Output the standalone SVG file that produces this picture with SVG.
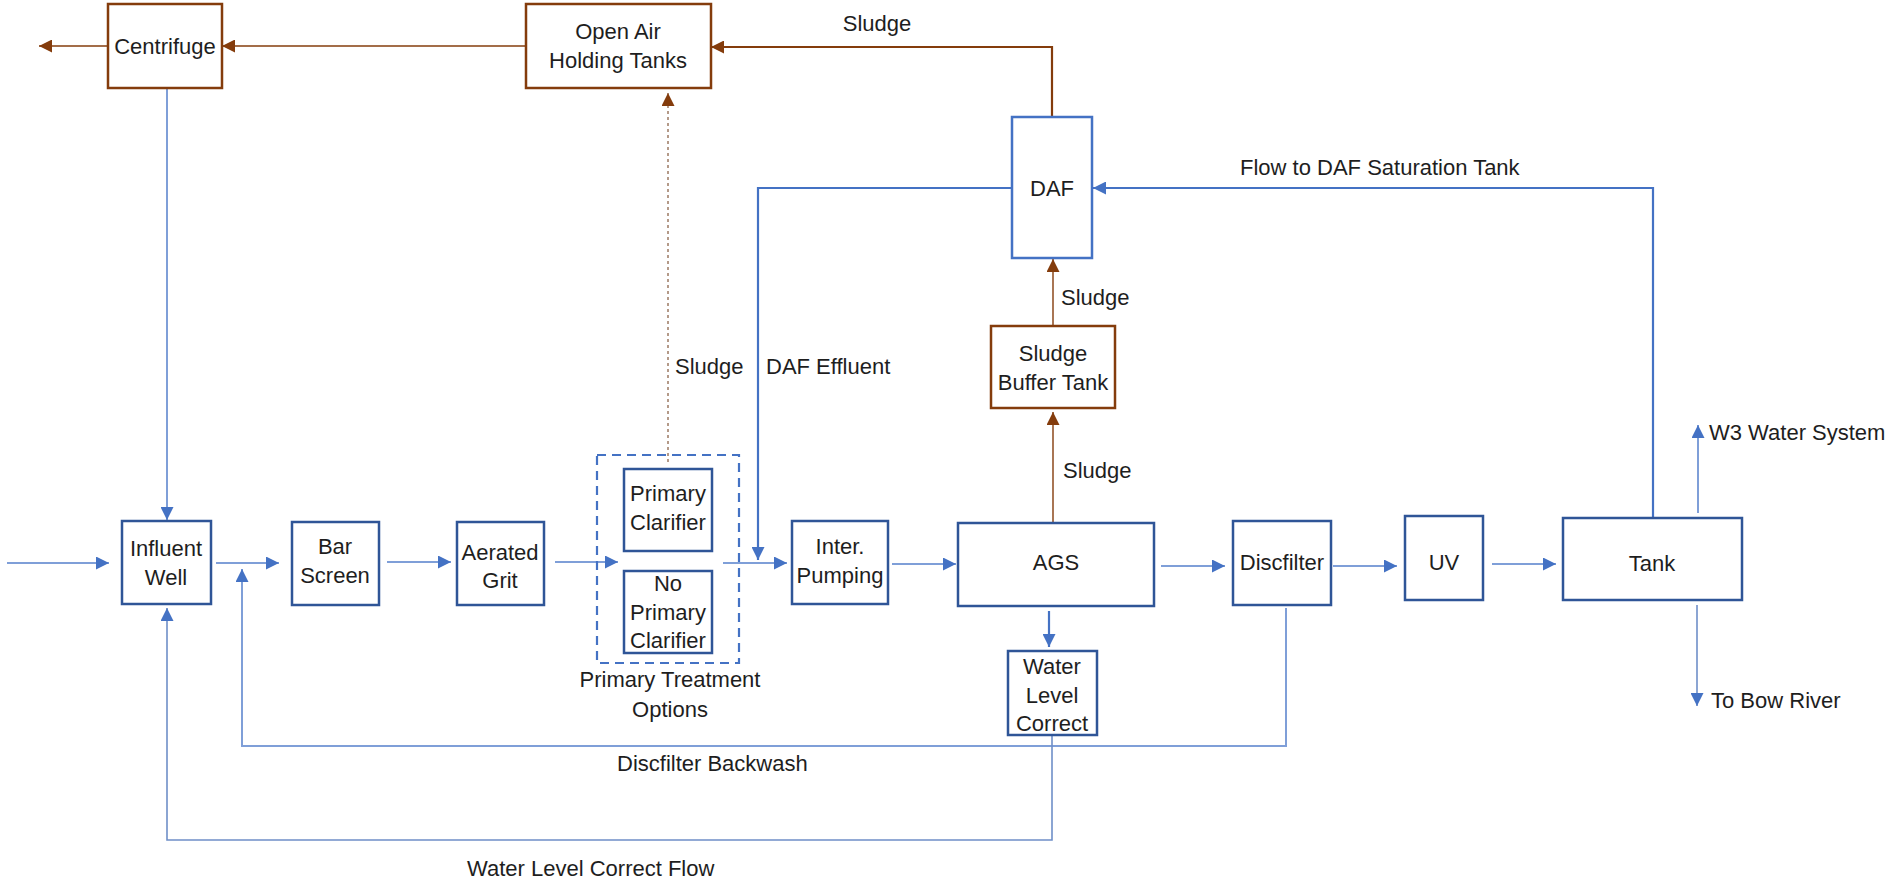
<svg xmlns="http://www.w3.org/2000/svg" width="1885" height="883" viewBox="0 0 1885 883">
  <style>
    text { font-family: "Liberation Sans", Arial, sans-serif; font-size: 22px; fill: #1e1e1e; }
    .c { text-anchor: middle; dominant-baseline: central; }
    .l { text-anchor: start; dominant-baseline: central; }
    .box { fill: #ffffff; stroke: #2F5597; stroke-width: 2.5; }
    .boxlt { fill: #ffffff; stroke: #4472C4; stroke-width: 2.5; }
    .boxbr { fill: #ffffff; stroke: #843C0C; stroke-width: 2.5; }
    .group { fill: none; stroke: #4472C4; stroke-width: 2.2; stroke-dasharray: 9 6; }
    .flow { fill: none; stroke: #7F9FD8; stroke-width: 2; }
    .flowdk { fill: none; stroke: #4472C4; stroke-width: 2.2; }
    .ret { fill: none; stroke: #6F8FC8; stroke-width: 1.6; }
    .sl { fill: none; stroke: #843C0C; stroke-width: 1.4; }
    .sldk { fill: none; stroke: #843C0C; stroke-width: 2.2; }
    .sldot { fill: none; stroke: #9C7A63; stroke-width: 1.5; stroke-dasharray: 3 3; }
    .ab { marker-end: url(#headBlue); }
    .abr { marker-end: url(#headBrown); }
  </style>
  <defs>
    <marker id="headBlue" markerUnits="userSpaceOnUse" markerWidth="13" markerHeight="13" viewBox="0 0 13 13" refX="13" refY="6.5" orient="auto">
      <path d="M0,0 L13,6.5 L0,13 z" fill="#4472C4"/>
    </marker>
    <marker id="headBrown" markerUnits="userSpaceOnUse" markerWidth="13" markerHeight="13" viewBox="0 0 13 13" refX="13" refY="6.5" orient="auto">
      <path d="M0,0 L13,6.5 L0,13 z" fill="#843C0C"/>
    </marker>
  </defs>

  <rect width="1885" height="883" fill="#ffffff"/>

  <!-- connectors -->
  <g id="connectors">
    <!-- main process line -->
    <path class="flow ab" d="M7,563 H109"/>
    <path class="flow ab" d="M216,563 H279"/>
    <path class="flow ab" d="M387,562 H451"/>
    <path class="flow ab" d="M555,562 H618"/>
    <path class="flow ab" d="M723,563 H787"/>
    <path class="flow ab" d="M892,564 H956"/>
    <path class="flow ab" d="M1161,566 H1225"/>
    <path class="flow ab" d="M1333,566 H1397"/>
    <path class="flow ab" d="M1492,564 H1556"/>
    <!-- tank outlets -->
    <path class="flow ab" d="M1698,513 V425"/>
    <path class="ret ab" d="M1697,605 V706"/>
    <!-- DAF loops -->
    <path class="flowdk ab" d="M1653,517 V188 H1093"/>
    <path class="flowdk ab" d="M1012,188 H758 V560"/>
    <!-- AGS to water level correction -->
    <path class="flowdk ab" d="M1049,611 V647"/>
    <!-- sludge lines -->
    <path class="sl abr" d="M1053,523 V412"/>
    <path class="sl abr" d="M1053,326 V259"/>
    <path class="sldk abr" d="M1052,117 V47 H711"/>
    <path class="sl abr" d="M526,46 H222"/>
    <path class="sl abr" d="M108,46 H39"/>
    <path class="sldot abr" d="M668,462 V93"/>
    <!-- returns to head of plant -->
    <path class="flow ab" d="M167,88 V520"/>
    <path class="flow ab" d="M1286,608 V746 H242 V569"/>
    <path class="ret ab" d="M1052,735 V840 H167 V608"/>
  </g>

  <!-- nodes -->
  <g id="centrifuge">
    <rect class="boxbr" x="108" y="4" width="114" height="84"/>
    <text class="c" x="165" y="46">Centrifuge</text>
  </g>
  <g id="open-air-holding-tanks">
    <rect class="boxbr" x="526" y="4" width="185" height="84"/>
    <text class="c" x="618" y="31">Open Air</text>
    <text class="c" x="618" y="60">Holding Tanks</text>
  </g>
  <g id="influent-well">
    <rect class="box" x="122" y="521" width="89" height="83"/>
    <text class="c" x="166" y="548">Influent</text>
    <text class="c" x="166" y="577">Well</text>
  </g>
  <g id="bar-screen">
    <rect class="box" x="292" y="522" width="87" height="83"/>
    <text class="c" x="335" y="546">Bar</text>
    <text class="c" x="335" y="575">Screen</text>
  </g>
  <g id="aerated-grit">
    <rect class="box" x="457" y="522" width="87" height="83"/>
    <text class="c" x="500" y="552">Aerated</text>
    <text class="c" x="500" y="580">Grit</text>
  </g>
  <g id="primary-treatment-options">
    <rect class="group" x="597" y="455" width="142" height="208"/>
    <text class="c" x="670" y="679">Primary Treatment</text>
    <text class="c" x="670" y="709">Options</text>
  </g>
  <g id="primary-clarifier">
    <rect class="box" x="624" y="469" width="88" height="82"/>
    <text class="c" x="668" y="493">Primary</text>
    <text class="c" x="668" y="522">Clarifier</text>
  </g>
  <g id="no-primary-clarifier">
    <rect class="box" x="624" y="571" width="88" height="82"/>
    <text class="c" x="668" y="583">No</text>
    <text class="c" x="668" y="612">Primary</text>
    <text class="c" x="668" y="640">Clarifier</text>
  </g>
  <g id="inter-pumping">
    <rect class="box" x="792" y="521" width="96" height="83"/>
    <text class="c" x="840" y="546">Inter.</text>
    <text class="c" x="840" y="575">Pumping</text>
  </g>
  <g id="ags">
    <rect class="box" x="958" y="523" width="196" height="83"/>
    <text class="c" x="1056" y="562">AGS</text>
  </g>
  <g id="water-level-correct">
    <rect class="box" x="1008" y="651" width="89" height="84"/>
    <text class="c" x="1052" y="666">Water</text>
    <text class="c" x="1052" y="695">Level</text>
    <text class="c" x="1052" y="723">Correct</text>
  </g>
  <g id="discfilter">
    <rect class="box" x="1233" y="521" width="98" height="84"/>
    <text class="c" x="1282" y="562">Discfilter</text>
  </g>
  <g id="uv">
    <rect class="box" x="1405" y="516" width="78" height="84"/>
    <text class="c" x="1444" y="562">UV</text>
  </g>
  <g id="tank">
    <rect class="box" x="1563" y="518" width="179" height="82"/>
    <text class="c" x="1652" y="563">Tank</text>
  </g>
  <g id="daf">
    <rect class="boxlt" x="1012" y="117" width="80" height="141"/>
    <text class="c" x="1052" y="188">DAF</text>
  </g>
  <g id="sludge-buffer-tank">
    <rect class="boxbr" x="991" y="326" width="124" height="82"/>
    <text class="c" x="1053" y="353">Sludge</text>
    <text class="c" x="1053" y="382">Buffer Tank</text>
  </g>

  <!-- connector labels -->
  <g id="labels">
    <text class="c" x="877" y="23">Sludge</text>
    <text class="l" x="1240" y="167">Flow to DAF Saturation Tank</text>
    <text class="l" x="766" y="366">DAF Effluent</text>
    <text class="l" x="675" y="366">Sludge</text>
    <text class="l" x="1061" y="297">Sludge</text>
    <text class="l" x="1063" y="470">Sludge</text>
    <text class="l" x="1709" y="432">W3 Water System</text>
    <text class="l" x="1711" y="700">To Bow River</text>
    <text class="l" x="617" y="763">Discfilter Backwash</text>
    <text class="l" x="467" y="868">Water Level Correct Flow</text>
  </g>
</svg>
